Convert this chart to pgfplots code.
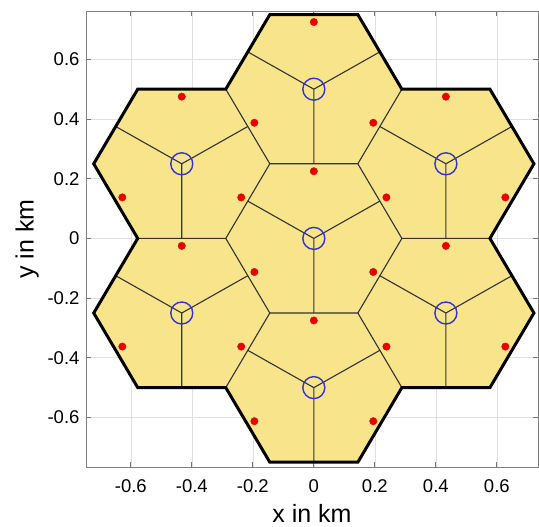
\documentclass[border=0pt]{standalone}
\usepackage{fontspec}
\setmainfont{Liberation Sans}
\usepackage{pgfplots}
\pgfplotsset{compat=1.18}
\definecolor{cellfill}{RGB}{247,228,139}
\definecolor{sitecol}{RGB}{50,50,215}
\definecolor{usercol}{RGB}{230,0,0}
\begin{document}
\begin{tikzpicture}
\begin{axis}[name=ax,
  width=452pt, height=456pt, scale only axis,
  xmin=-0.747, xmax=0.735, ymin=-0.766, ymax=0.762,
  xtick={-0.6,-0.4,-0.2,0,0.2,0.4,0.6},
  ytick={-0.6,-0.4,-0.2,0,0.2,0.4,0.6},
  xticklabels={-0.6,-0.4,-0.2,0,0.2,0.4,0.6},
  yticklabels={-0.6,-0.4,-0.2,0,0.2,0.4,0.6},
  grid=major, grid style={black!12, line width=0.6pt},
  tick align=inside, major tick length=5pt,
  tick style={black!55, line width=0.7pt},
  axis line style={black!50, line width=0.9pt},
  ticklabel style={font=\fontsize{18.5}{21}\selectfont},
  xticklabel style={yshift=-9pt},
  yticklabel style={xshift=-3pt},
  /pgf/number format/assume math mode=true,
  xlabel={x in km}, ylabel={y in km},
  label style={font=\fontsize{25}{28}\selectfont},
  xlabel style={yshift=-4.5pt},
  ylabel style={yshift=2pt},
  unbounded coords=jump,
  line join=miter,
]
% filled area (union of the seven site hexagons)
\addplot[fill=cellfill, draw=none] coordinates {
 (-0.1443,0.75)(0.1443,0.75)(0.2887,0.5)(0.5774,0.5)(0.7217,0.25)(0.5774,0)
 (0.7217,-0.25)(0.5774,-0.5)(0.2887,-0.5)(0.1443,-0.75)(-0.1443,-0.75)(-0.2887,-0.5)
 (-0.5774,-0.5)(-0.7217,-0.25)(-0.5774,0)(-0.7217,0.25)(-0.5774,0.5)(-0.2887,0.5)
 (-0.1443,0.75)};
% site hexagons (thin)
\addplot[black!80, line width=1.1pt] coordinates {
 (0.2887,0)(0.1443,0.25)(-0.1443,0.25)(-0.2887,0)(-0.1443,-0.25)(0.1443,-0.25)(0.2887,0)
 (nan,nan)
 (0.2887,0.5)(0.1443,0.75)(-0.1443,0.75)(-0.2887,0.5)(-0.1443,0.25)(0.1443,0.25)(0.2887,0.5)
 (nan,nan)
 (0.2887,-0.5)(0.1443,-0.25)(-0.1443,-0.25)(-0.2887,-0.5)(-0.1443,-0.75)(0.1443,-0.75)(0.2887,-0.5)
 (nan,nan)
 (0.7217,0.25)(0.5774,0.5)(0.2887,0.5)(0.1443,0.25)(0.2887,0)(0.5774,0)(0.7217,0.25)
 (nan,nan)
 (0.7217,-0.25)(0.5774,0)(0.2887,0)(0.1443,-0.25)(0.2887,-0.5)(0.5774,-0.5)(0.7217,-0.25)
 (nan,nan)
 (-0.1443,0.25)(-0.2887,0.5)(-0.5774,0.5)(-0.7217,0.25)(-0.5774,0)(-0.2887,0)(-0.1443,0.25)
 (nan,nan)
 (-0.1443,-0.25)(-0.2887,0)(-0.5774,0)(-0.7217,-0.25)(-0.5774,-0.5)(-0.2887,-0.5)(-0.1443,-0.25)
};
% sector borders (thin)
\addplot[black!80, line width=1.1pt] coordinates {
 (0.2165,0.125)(0,0)(-0.2165,0.125) (nan,nan) (0,0)(0,-0.25) (nan,nan)
 (0.2165,0.625)(0,0.5)(-0.2165,0.625) (nan,nan) (0,0.5)(0,0.25) (nan,nan)
 (0.2165,-0.375)(0,-0.5)(-0.2165,-0.375) (nan,nan) (0,-0.5)(0,-0.75) (nan,nan)
 (0.6495,0.375)(0.4330,0.25)(0.2165,0.375) (nan,nan) (0.4330,0.25)(0.4330,0) (nan,nan)
 (0.6495,-0.125)(0.4330,-0.25)(0.2165,-0.125) (nan,nan) (0.4330,-0.25)(0.4330,-0.5) (nan,nan)
 (-0.2165,0.375)(-0.4330,0.25)(-0.6495,0.375) (nan,nan) (-0.4330,0.25)(-0.4330,0) (nan,nan)
 (-0.2165,-0.125)(-0.4330,-0.25)(-0.6495,-0.125) (nan,nan) (-0.4330,-0.25)(-0.4330,-0.5)
};
% outer boundary (thick)
\addplot[black, line width=3pt] coordinates {
 (-0.1443,0.75)(0.1443,0.75)(0.2887,0.5)(0.5774,0.5)(0.7217,0.25)(0.5774,0)
 (0.7217,-0.25)(0.5774,-0.5)(0.2887,-0.5)(0.1443,-0.75)(-0.1443,-0.75)(-0.2887,-0.5)
 (-0.5774,-0.5)(-0.7217,-0.25)(-0.5774,0)(-0.7217,0.25)(-0.5774,0.5)(-0.2887,0.5)
 (-0.1443,0.75)(0.1443,0.75)};
% users (red dots)
\addplot[only marks, mark=*, mark size=3.7pt, color=usercol] coordinates {
 (0,0.225)(-0.1949,-0.1125)(0.1949,-0.1125)
 (0,0.725)(-0.1949,0.3875)(0.1949,0.3875)
 (0,-0.275)(-0.1949,-0.6125)(0.1949,-0.6125)
 (0.4330,0.475)(0.2381,0.1375)(0.6279,0.1375)
 (0.4330,-0.025)(0.2381,-0.3625)(0.6279,-0.3625)
 (-0.4330,0.475)(-0.6279,0.1375)(-0.2381,0.1375)
 (-0.4330,-0.025)(-0.6279,-0.3625)(-0.2381,-0.3625)};
% sites (blue circles)
\addplot[only marks, mark=o, mark size=11pt, color=sitecol, mark options={line width=1.4pt}] coordinates {
 (0,0)(0,0.5)(0,-0.5)(0.4330,0.25)(0.4330,-0.25)(-0.4330,0.25)(-0.4330,-0.25)};
\end{axis}
\pgfresetboundingbox
\path[use as bounding box] ([xshift=-86pt,yshift=-59pt]ax.south west) rectangle ([xshift=1pt,yshift=11pt]ax.north east);
\end{tikzpicture}
\end{document}
